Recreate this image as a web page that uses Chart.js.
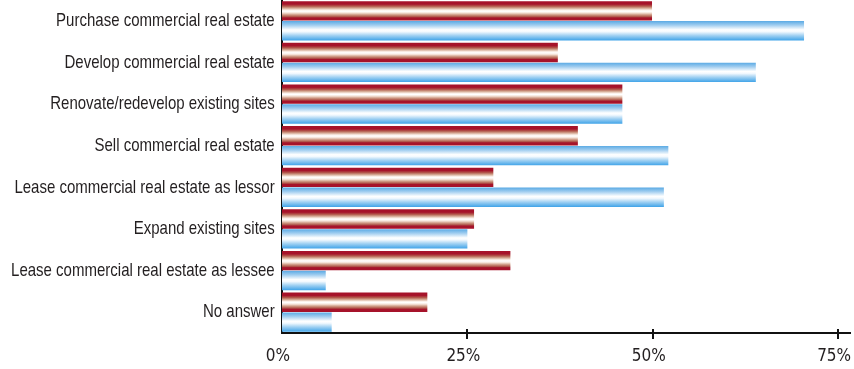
<!DOCTYPE html>
<html>
<head>
<meta charset="utf-8">
<script src="https://cdn.jsdelivr.net/npm/chart.js@4.4.1/dist/chart.umd.min.js"></script>
<style>
  html, body { margin: 0; padding: 0; background: #fff; }
  .wrap { width: 854px; height: 369px; position: relative; }
</style>
</head>
<body>
<div class="wrap"><canvas id="chart"></canvas></div>
<script>
const categories = [
  "Purchase commercial real estate",
  "Develop commercial real estate",
  "Renovate/redevelop existing sites",
  "Sell commercial real estate",
  "Lease commercial real estate as lessor",
  "Expand existing sites",
  "Lease commercial real estate as lessee",
  "No answer",
];
const redValues = [49.9, 37.2, 45.9, 39.9, 28.5, 25.9, 30.8, 19.6];
const blueValues = [70.4, 63.9, 45.9, 52.1, 51.5, 25.0, 5.9, 6.7];
const tickValues = [0, 25, 50, 75];

const textColor = "#231f20";
const axisColor = "#111";
const squeeze = 0.79;

const redStops = [
  [0, "#a6132a"], [0.15, "#a6132a"], [0.26, "#b35a4c"], [0.36, "#d4a892"],
  [0.46, "#fbf1ea"], [0.52, "#ffffff"], [0.6, "#f4e3d8"], [0.7, "#cf9c86"],
  [0.8, "#b0564a"], [0.86, "#a6132a"], [1, "#a6132a"],
];
const blueStops = [
  [0, "#5aaae4"], [0.2, "#9ccbef"], [0.45, "#ffffff"], [0.55, "#f3f9fe"],
  [0.75, "#9fd0f2"], [1, "#3fa3e8"],
];

// paint each bar with its own vertical gradient once the layout is known
const stripedBars = {
  id: "stripedBars",
  beforeDatasetsDraw(chart) {
    const ctx = chart.ctx;
    chart.data.datasets.forEach((ds, i) => {
      chart.getDatasetMeta(i).data.forEach((bar) => {
        const top = bar.y - bar.height / 2;
        const g = ctx.createLinearGradient(0, top, 0, top + bar.height);
        ds.stops.forEach(([o, c]) => g.addColorStop(o, c));
        bar.options.backgroundColor = g;
      });
    });
  },
};

// no condensed face is installed, so squeeze the category labels a bit
const narrowLabels = {
  id: "narrowLabels",
  beforeDraw(chart) {
    const y = chart.scales.y;
    if (y._narrow) return;
    y._narrow = true;
    const draw = y.drawLabels;
    y.drawLabels = function (area) {
      const ctx = this.ctx;
      const ax = this.right - this.options.ticks.padding;
      const left = this.left;
      // widen the label clip box so it still covers the canvas once scaled
      this.left = Math.floor(ax - ax / squeeze) - 2;
      ctx.save();
      ctx.translate(ax, 0);
      ctx.scale(squeeze, 1);
      ctx.translate(-ax, 0);
      draw.call(this, area);
      ctx.restore();
      this.left = left;
    };
  },
};

// tick marks that cross the x axis line
const crossTicks = {
  id: "crossTicks",
  afterDraw(chart) {
    const x = chart.scales.x;
    const ctx = chart.ctx;
    ctx.save();
    ctx.strokeStyle = axisColor;
    ctx.lineWidth = 2;
    x.ticks.forEach((t) => {
      if (t.value === 0) return;
      const px = Math.round(x.getPixelForValue(t.value));
      ctx.beginPath();
      ctx.moveTo(px, x.top - 4);
      ctx.lineTo(px, x.top + 6);
      ctx.stroke();
    });
    ctx.restore();
  },
};

const data = {
  labels: categories,
  datasets: [
    {
      data: redValues,
      stops: redStops,
      backgroundColor: () => redStops[0][1],
      categoryPercentage: 0.955,
      barPercentage: 0.98,
    },
    {
      data: blueValues,
      stops: blueStops,
      backgroundColor: () => blueStops[0][1],
      categoryPercentage: 0.955,
      barPercentage: 0.98,
    },
  ],
};

const config = {
  type: "bar",
  data: data,
  options: {
    indexAxis: "y",
    responsive: true,
    maintainAspectRatio: false,
    animation: false,
    layout: { padding: { top: 0, right: 4, bottom: 0, left: 0 } },
    plugins: {
      legend: { display: false },
      tooltip: { enabled: false },
    },
    scales: {
      x: {
        type: "linear",
        min: 0,
        max: 76.6,
        afterBuildTicks: (s) => {
          s.ticks = tickValues.map((v) => ({ value: v }));
        },
        afterFit: (s) => {
          s.height = 36;
          s.paddingLeft = 0;
          s.paddingRight = 0;
        },
        grid: { display: false },
        border: { display: true, color: axisColor, width: 2 },
        ticks: {
          callback: (v) => v + "%",
          color: textColor,
          font: { family: "'DejaVu Sans Condensed', sans-serif", size: 17 },
          padding: 5,
          labelOffset: -4,
          maxRotation: 0,
          autoSkip: false,
        },
      },
      y: {
        afterFit: (s) => {
          s.width = 282;
          s.paddingTop = 0;
          s.paddingBottom = 0;
        },
        grid: { display: false },
        border: { display: true, color: axisColor, width: 2 },
        ticks: {
          color: textColor,
          font: { family: "'Liberation Sans', Arial, sans-serif", size: 19 },
          padding: 1,
          autoSkip: false,
        },
      },
    },
  },
  plugins: [stripedBars, narrowLabels, crossTicks],
};

new Chart(document.getElementById("chart").getContext("2d"), config);
</script>
</body>
</html>
